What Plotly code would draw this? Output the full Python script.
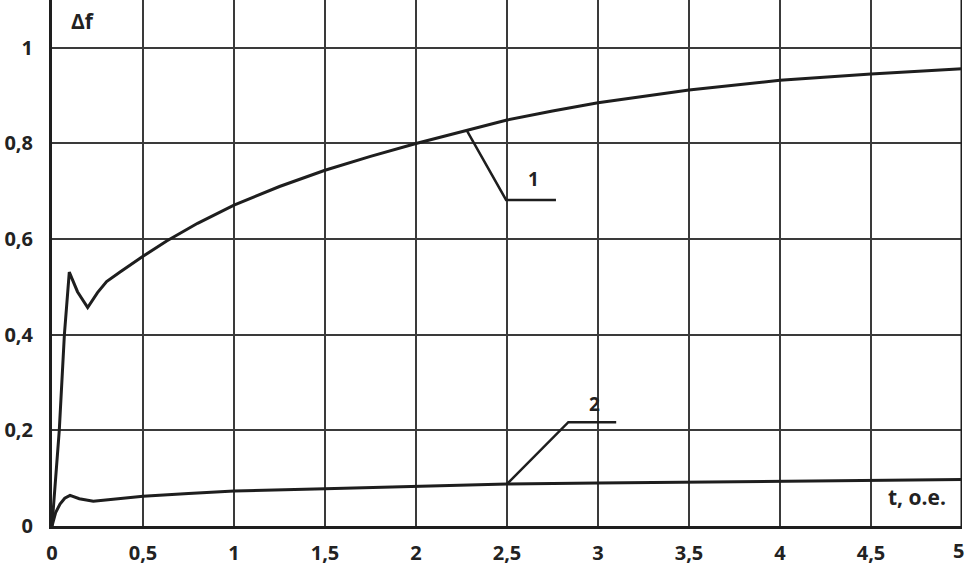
import plotly.graph_objects as go

# curve 1 (t, delta f)
t1 = [0, 0.04, 0.068, 0.095, 0.14, 0.196, 0.25, 0.30, 0.374, 0.5, 0.63, 0.8, 1.0, 1.25, 1.5, 1.75, 2.0, 2.28, 2.5, 2.75, 3.0, 3.5, 4.0, 4.5, 5.0]
df1 = [0, 0.20, 0.40, 0.531, 0.49, 0.457, 0.488, 0.511, 0.531, 0.564, 0.596, 0.633, 0.671, 0.71, 0.744, 0.773, 0.80, 0.828, 0.849, 0.868, 0.885, 0.912, 0.932, 0.945, 0.956]

# curve 2
t2 = [0, 0.02, 0.044, 0.07, 0.099, 0.15, 0.227, 0.35, 0.5, 0.75, 1.0, 1.5, 2.0, 2.5, 3.0, 3.5, 4.0, 4.5, 5.0]
df2 = [0, 0.028, 0.046, 0.058, 0.064, 0.057, 0.052, 0.056, 0.062, 0.068, 0.073, 0.078, 0.083, 0.088, 0.09, 0.092, 0.094, 0.096, 0.097]

# leader lines for the curve labels
lead1_t = [2.278, 2.495, 2.769]
lead1_y = [0.828, 0.682, 0.682]
lead2_t = [2.5, 2.837, 3.1]
lead2_y = [0.088, 0.217, 0.217]

ink = "#1e1e1e"
font = dict(family="Open Sans", size=19, color="#222")

fig = go.Figure()
fig.add_trace(go.Scatter(x=t1, y=df1, mode="lines", line=dict(color=ink, width=3)))
fig.add_trace(go.Scatter(x=t2, y=df2, mode="lines", line=dict(color=ink, width=3)))
fig.add_trace(go.Scatter(x=lead1_t, y=lead1_y, mode="lines", line=dict(color=ink, width=2.5)))
fig.add_trace(go.Scatter(x=lead2_t, y=lead2_y, mode="lines", line=dict(color=ink, width=2.5)))

fig.add_annotation(x=2.645, y=0.726, text="<b>1</b>", showarrow=False, font=font)
fig.add_annotation(x=2.98, y=0.255, text="<b>2</b>", showarrow=False, font=font)
fig.add_annotation(x=0.17, y=1.057, text="<b>Δf</b>", showarrow=False, font=dict(family="Open Sans", size=21, color="#222"))
fig.add_annotation(x=4.75, y=0.06, text="<b>t, o.e.</b>", showarrow=False, font=dict(family="Open Sans", size=21, color="#222"))
# last x tick label sits on the right edge of the page
fig.add_annotation(x=5, y=0, yref="paper", yanchor="middle", xanchor="right", yshift=-24, xshift=4,
                   text="<b>5</b>", showarrow=False,
                   font=dict(family="Open Sans", size=20, color="#222"))

# right border at t = 5
fig.add_shape(type="line", x0=5, x1=5, y0=0, y1=1, xref="x", yref="paper",
              line=dict(color=ink, width=3))

tickfont = dict(family="Open Sans", size=20, color="#222", weight="bold")
fig.update_xaxes(range=[0, 5], dtick=0.5, showgrid=True, gridcolor="#3a3a3a", gridwidth=2,
                 zeroline=False, showline=True, linecolor=ink, linewidth=3,
                 ticks="outside", ticklen=7, tickcolor="rgba(0,0,0,0)",
                 tickfont=tickfont, automargin=False)
fig.update_yaxes(range=[0, 1.1], dtick=0.2, showgrid=True, gridcolor="#3a3a3a", gridwidth=2,
                 zeroline=False, showline=True, linecolor=ink, linewidth=3,
                 ticks="outside", ticklen=12, tickcolor="rgba(0,0,0,0)",
                 tickfont=tickfont, automargin=False)

fig.update_layout(width=966, height=566, margin=dict(l=52, r=4, t=0, b=40),
                  plot_bgcolor="white", paper_bgcolor="white", showlegend=False,
                  separators=", ")

# the page body has an 8px margin by default; drop it so the figure fills the window
fig.write_html("out.html", config={"displayModeBar": False},
               post_script="document.body.style.margin='0';")
